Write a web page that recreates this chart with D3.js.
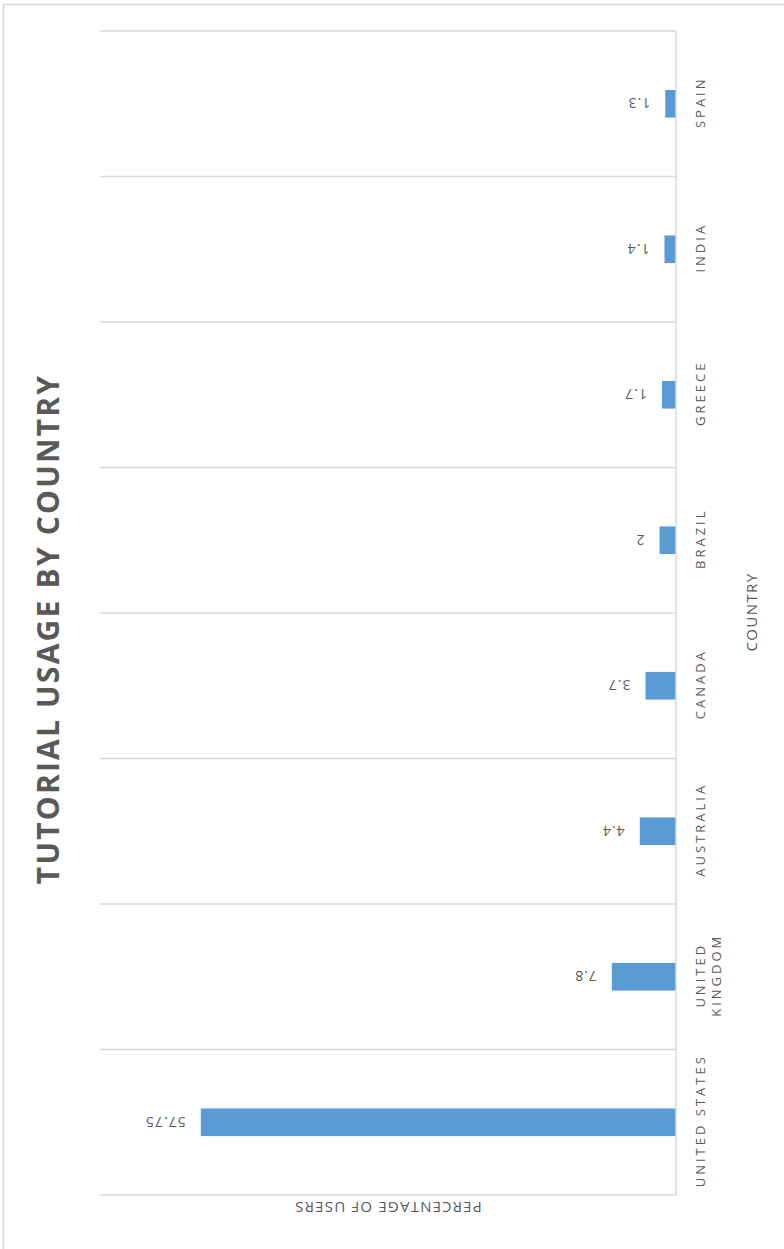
<!DOCTYPE html>
<html>
<head>
<meta charset="utf-8">
<script src="https://cdn.jsdelivr.net/npm/d3@7"></script>
<style>
  html, body { margin: 0; padding: 0; background: #fff; }
  svg { display: block; }
  text { font-family: "Open Sans", "Noto Sans", sans-serif; fill: #595959; }
</style>
</head>
<body>
<svg id="chart" width="784" height="1249"></svg>
<script>
const categories = ["UNITED STATES", "UNITED KINGDOM", "AUSTRALIA", "CANADA", "BRAZIL", "GREECE", "INDIA", "SPAIN"];
const categoryLines = [["UNITED STATES"], ["UNITED", "KINGDOM"], ["AUSTRALIA"], ["CANADA"], ["BRAZIL"], ["GREECE"], ["INDIA"], ["SPAIN"]];
const values = [57.75, 7.8, 4.4, 3.7, 2, 1.7, 1.4, 1.3];
const valueDomain = [0, 70];
const title = "TUTORIAL USAGE BY COUNTRY";
const valueAxisTitle = "PERCENTAGE OF USERS";
const categoryAxisTitle = "COUNTRY";

const svg = d3.select("#chart");
const grid = "#d9d9d9";

// outer chart border
svg.append("rect").attr("x", 3.5).attr("y", 4.5).attr("width", 820).attr("height", 1270)
  .attr("fill", "none").attr("stroke", grid).attr("stroke-width", 1.5);

const plot = { left: 100, right: 676, top: 31, bottom: 1195 };

const x = d3.scaleLinear().domain(valueDomain).range([plot.right, plot.left]);
const y = d3.scaleBand().domain(categories).range([plot.bottom, plot.top]).padding(0);

// category boundary gridlines
const bounds = categories.map(c => y(c)).concat([y(categories[0]) + y.bandwidth()]);
svg.append("g").selectAll("line").data(bounds).join("line")
  .attr("x1", plot.left).attr("x2", plot.right)
  .attr("y1", d => d).attr("y2", d => d)
  .attr("stroke", grid).attr("stroke-width", 1.5);

// bars
const barH = y.bandwidth() * 0.19;
svg.append("g").selectAll("rect").data(values).join("rect")
  .attr("x", d => x(d)).attr("width", d => x(0) - x(d))
  .attr("y", (d, i) => y(categories[i]) + y.bandwidth() / 2 - barH / 2)
  .attr("height", barH)
  .attr("fill", "#5b9bd5");

// category axis line
svg.append("line").attr("x1", plot.right).attr("x2", plot.right)
  .attr("y1", plot.top).attr("y2", plot.bottom)
  .attr("stroke", grid).attr("stroke-width", 1.5);

// value labels (upside down)
svg.append("g").selectAll("text").data(values).join("text")
  .attr("transform", (d, i) => `translate(${x(d) - 15},${y(categories[i]) + y.bandwidth() / 2}) rotate(180)`)
  .attr("text-anchor", "start").attr("dominant-baseline", "central")
  .style("font-size", "14px").style("letter-spacing", "1px")
  .text(d => d);

// category labels (rotated -90)
const catG = svg.append("g").selectAll("g").data(categories).join("g")
  .attr("transform", (c) => `translate(${plot.right + 29},${y(c) + y.bandwidth() / 2}) rotate(-90)`);
catG.each(function (c, i) {
  const lines = categoryLines[i];
  const t = d3.select(this).append("text").attr("text-anchor", "middle")
    .style("font-size", "13px").style("letter-spacing", "3px");
  lines.forEach((ln, j) => {
    t.append("tspan").attr("x", 1.5).attr("y", j * 16).text(ln);
  });
});

// title
svg.append("text")
  .attr("transform", `translate(59,629) rotate(-90)`)
  .attr("text-anchor", "middle")
  .style("font-size", "30px").style("font-weight", "bold").style("letter-spacing", "2.2px")
  .text(title);

// value axis title (upside down)
svg.append("text")
  .attr("transform", `translate(388,1208) rotate(180)`)
  .attr("text-anchor", "middle").attr("dominant-baseline", "central")
  .style("font-size", "15px").style("letter-spacing", "1.2px")
  .text(valueAxisTitle);

// category axis title
svg.append("text")
  .attr("transform", `translate(757,612) rotate(-90)`)
  .attr("text-anchor", "middle")
  .style("font-size", "15px").style("letter-spacing", "1.4px")
  .text(categoryAxisTitle);
</script>
</body>
</html>
